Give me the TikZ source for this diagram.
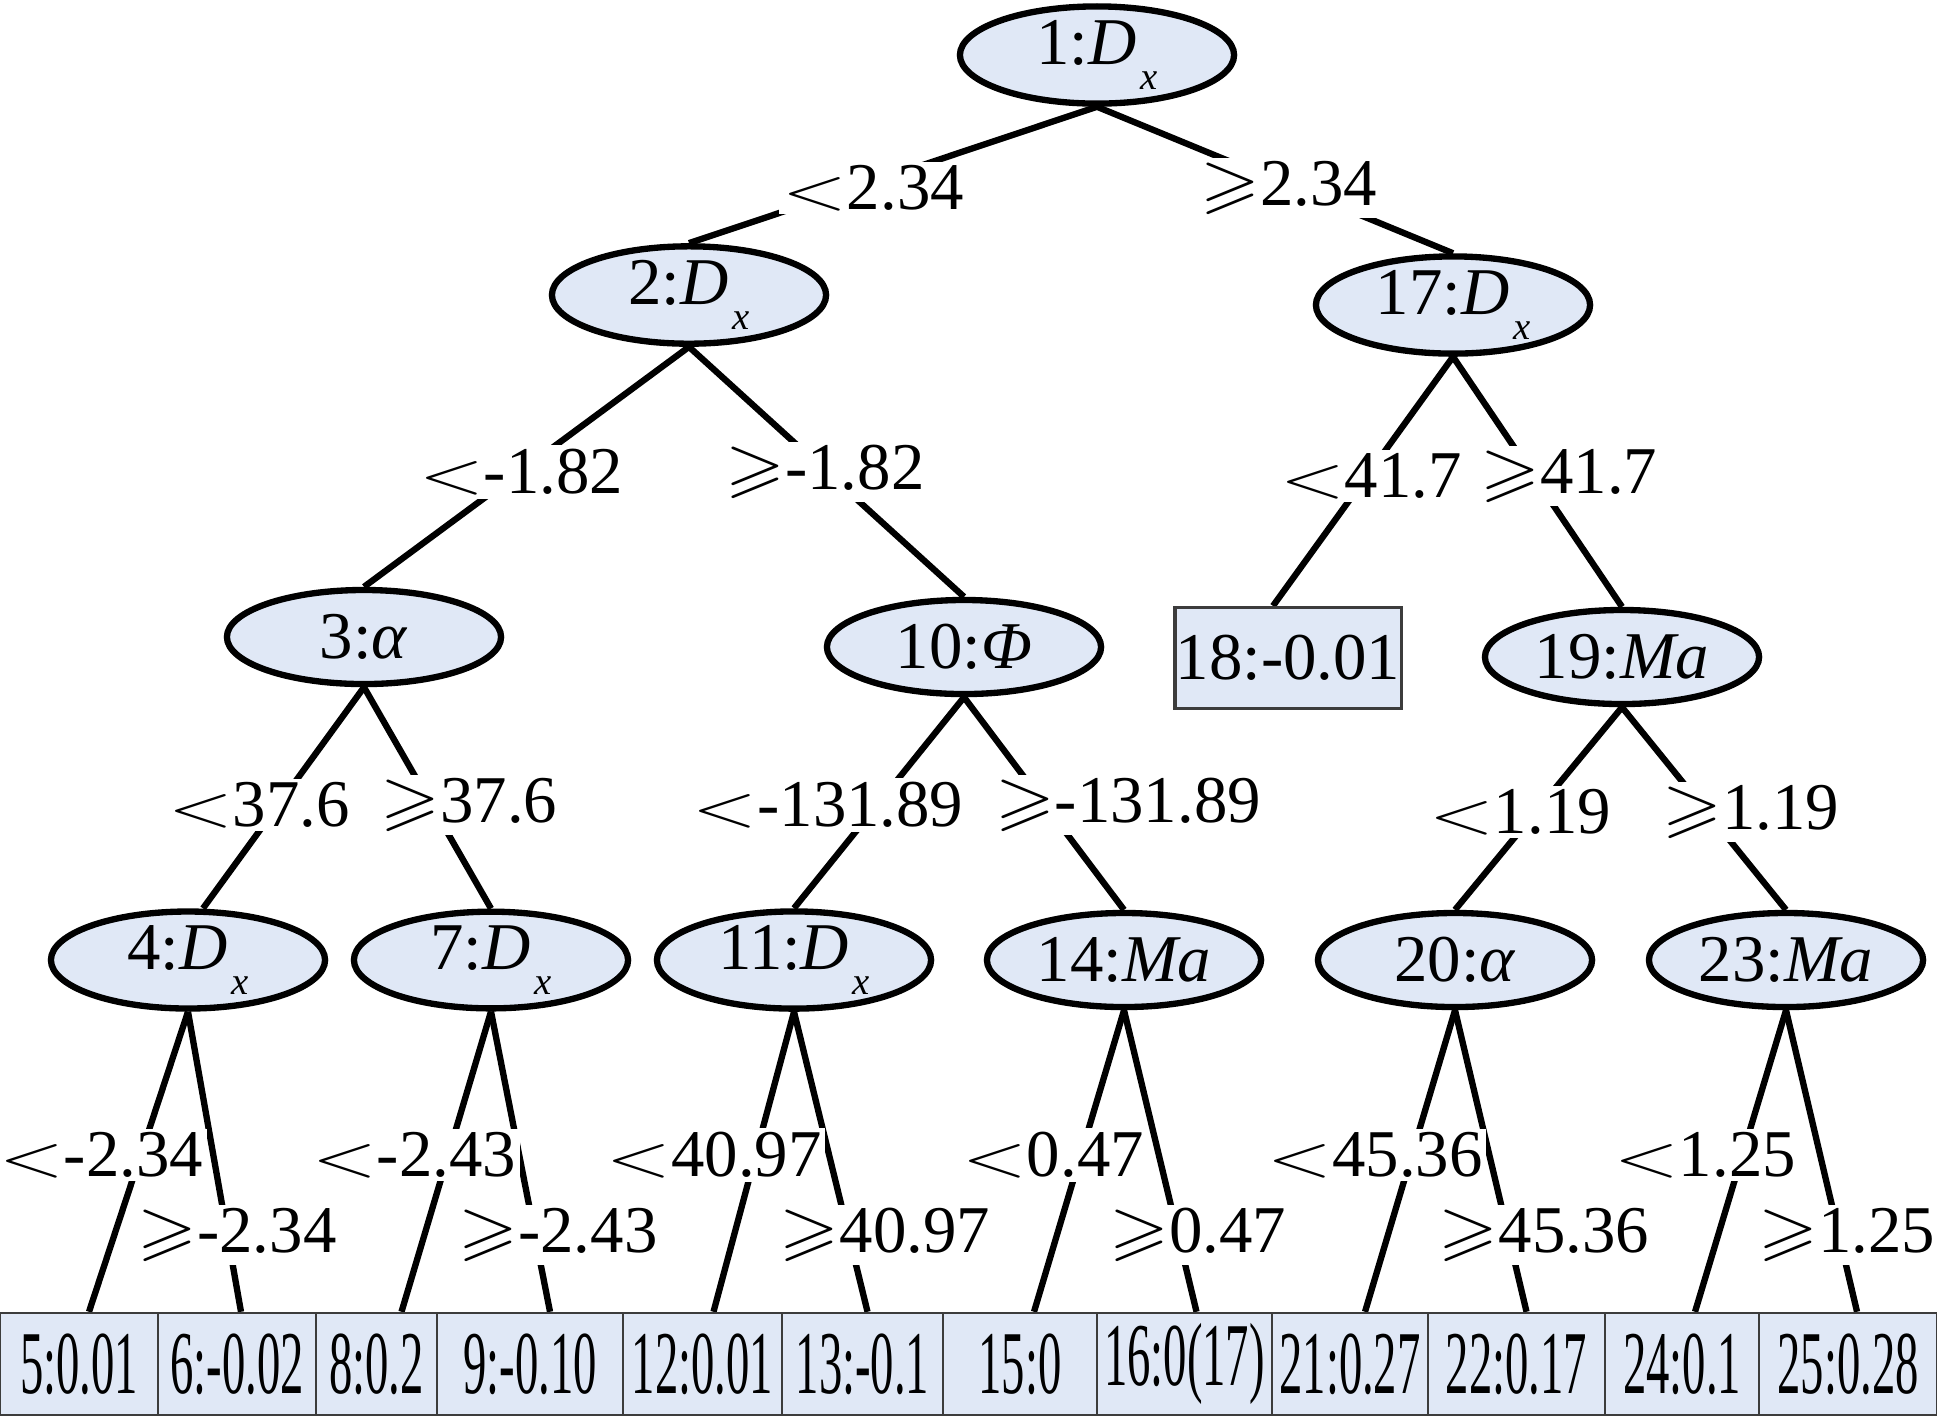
\documentclass[tikz,border=0pt]{standalone}
\usepackage{fontspec}
\setmainfont{Liberation Serif}
\usepackage{amssymb}
\usepackage{graphicx}
\usetikzlibrary{shapes.geometric,backgrounds}
\definecolor{nodefill}{RGB}{224,232,246}
\definecolor{boxline}{RGB}{60,60,60}
\newcommand{\Dx}{\textit{D}\hspace{1pt}\raisebox{-7pt}{\fontsize{11}{11}\selectfont\textit{x}}}
\newcommand{\mylt}{\scalebox{1.4}[1]{$<$}}
\newcommand{\mygeq}{\scalebox{1.15}[1]{$\geqslant$}}
\newcommand{\leaftext}[1]{\scalebox{0.52}[1]{#1}}
\tikzset{
  inner/.style={ellipse, draw=black, line width=1.8pt, fill=nodefill,
    minimum width=2.74cm, minimum height=0.94cm, inner sep=0pt,
    font=\fontsize{19}{22}\selectfont},
  leafbox/.style={rectangle, draw=boxline, line width=0.7pt, fill=nodefill,
    minimum height=1.02cm, inner sep=0pt,
    font=\fontsize{25.5}{27}\selectfont},
  midbox/.style={rectangle, draw=boxline, line width=0.9pt, fill=nodefill,
    minimum width=2.26cm, minimum height=1.01cm, inner sep=0pt,
    font=\fontsize{19}{22}\selectfont},
  lab/.style={fill=white, inner sep=1pt, font=\fontsize{19}{22}\selectfont},
  edge/.style={draw=black, line width=1.8pt}
}
\begin{document}
\begin{tikzpicture}[x=0.01cm,y=-0.01cm]
\useasboundingbox (0,0) rectangle (1937,1417);
% internal nodes
\node[inner] (n1)  at (1097,55)  {1:\Dx};
\node[inner] (n2)  at (689,295)  {2:\Dx};
\node[inner] (n17) at (1453,305) {17:\Dx};
\node[inner] (n3)  at (364,637)  {3:\textit{α}};
\node[inner] (n10) at (964,647)  {10:\textit{Φ}};
\node[midbox] (n18) at (1288,658) {18:-0.01};
\node[inner] (n19) at (1622,657) {19:\textit{Ma}};
\node[inner] (n4)  at (188,960)  {4:\Dx};
\node[inner] (n7)  at (491,960)  {7:\Dx};
\node[inner] (n11) at (794,960)  {11:\Dx};
\node[inner] (n14) at (1124,960) {14:\textit{Ma}};
\node[inner] (n20) at (1455,960) {20:\textit{α}};
\node[inner] (n23) at (1786,960) {23:\textit{Ma}};
% leaves
\node[leafbox, minimum width=1.58cm] (n5)  at (79,1364)    {\leaftext{5:0.01}};
\node[leafbox, minimum width=1.58cm] (n6)  at (237,1364)   {\leaftext{6:-0.02}};
\node[leafbox, minimum width=1.21cm] (n8)  at (376.5,1364) {\leaftext{8:0.2}};
\node[leafbox, minimum width=1.86cm] (n9)  at (530,1364)   {\leaftext{9:-0.10}};
\node[leafbox, minimum width=1.59cm] (n12) at (702.5,1364) {\leaftext{12:0.01}};
\node[leafbox, minimum width=1.61cm] (n13) at (862.5,1364) {\leaftext{13:-0.1}};
\node[leafbox, minimum width=1.54cm] (n15) at (1020,1364)  {\leaftext{15:0}};
\node[leafbox, minimum width=1.75cm] (n16) at (1184.5,1364){\leaftext{16:0(17)}};
\node[leafbox, minimum width=1.56cm] (n21) at (1350,1364)  {\leaftext{21:0.27}};
\node[leafbox, minimum width=1.77cm] (n22) at (1516.5,1364){\leaftext{22:0.17}};
\node[leafbox, minimum width=1.54cm] (n24) at (1682,1364)  {\leaftext{24:0.1}};
\node[leafbox, minimum width=1.78cm] (n25) at (1848,1364)  {\leaftext{25:0.28}};
% edges
\begin{scope}[on background layer]
\draw[edge] (n1.south) -- (n2.north);
\draw[edge] (n1.south) -- (n17.north);
\draw[edge] (n2.south) -- (n3.north);
\draw[edge] (n2.south) -- (n10.north);
\draw[edge] (n17.south) -- ([xshift=-0.15cm]n18.north);
\draw[edge] (n17.south) -- (n19.north);
\draw[edge] (n3.south) -- ([xshift=0.15cm]n4.north);
\draw[edge] (n3.south) -- (n7.north);
\draw[edge] (n10.south) -- (n11.north);
\draw[edge] (n10.south) -- (n14.north);
\draw[edge] (n19.south) -- (n20.north);
\draw[edge] (n19.south) -- (n23.north);
\draw[edge] (n4.south) -- ([xshift=0.10cm]n5.north);
\draw[edge] (n4.south) -- ([xshift=0.04cm]n6.north);
\draw[edge] (n7.south) -- ([xshift=0.25cm]n8.north);
\draw[edge] (n7.south) -- ([xshift=0.20cm]n9.north);
\draw[edge] (n11.south) -- ([xshift=0.11cm]n12.north);
\draw[edge] (n11.south) -- ([xshift=0.05cm]n13.north);
\draw[edge] (n14.south) -- ([xshift=0.14cm]n15.north);
\draw[edge] (n14.south) -- ([xshift=0.12cm]n16.north);
\draw[edge] (n20.south) -- ([xshift=0.15cm]n21.north);
\draw[edge] (n20.south) -- ([xshift=0.10cm]n22.north);
\draw[edge] (n23.south) -- ([xshift=0.13cm]n24.north);
\draw[edge] (n23.south) -- ([xshift=0.09cm]n25.north);
\end{scope}
% labels
\node[lab] (e1a) at (873,188) {\mylt2.34};
\node[lab] (e1b) at (1289,188) {\mygeq2.34};
\node[lab] (e2a) at (521,472) {\mylt-1.82};
\node[lab] (e2b) at (825,472) {\mygeq-1.82};
\node[lab] (e17a) at (1371,476) {\mylt41.7};
\node[lab] (e17b) at (1569,476) {\mygeq41.7};
\node[lab] (e3a) at (259,805) {\mylt37.6};
\node[lab] (e3b) at (469,805) {\mygeq37.6};
\node[lab] (e10a) at (828,805) {\mylt-131.89};
\node[lab] (e10b) at (1128,805) {\mygeq-131.89};
\node[lab] (e19a) at (1520,812) {\mylt1.19};
\node[lab] (e19b) at (1751,812) {\mygeq1.19};
\node[lab] (e4a) at (101,1155) {\mylt-2.34};
\node[lab] (e4b) at (237,1235) {\mygeq-2.34};
\node[lab] (e7a) at (414,1155) {\mylt-2.43};
\node[lab] (e7b) at (558,1235) {\mygeq-2.43};
\node[lab] (e11a) at (714,1155) {\mylt40.97};
\node[lab] (e11b) at (885,1235) {\mygeq40.97};
\node[lab] (e14a) at (1053,1155) {\mylt0.47};
\node[lab] (e14b) at (1198,1235) {\mygeq0.47};
\node[lab] (e20a) at (1375,1155) {\mylt45.36};
\node[lab] (e20b) at (1544,1235) {\mygeq45.36};
\node[lab] (e23a) at (1705,1155) {\mylt1.25};
\node[lab] (e23b) at (1847,1235) {\mygeq1.25};
\end{tikzpicture}
\end{document}
